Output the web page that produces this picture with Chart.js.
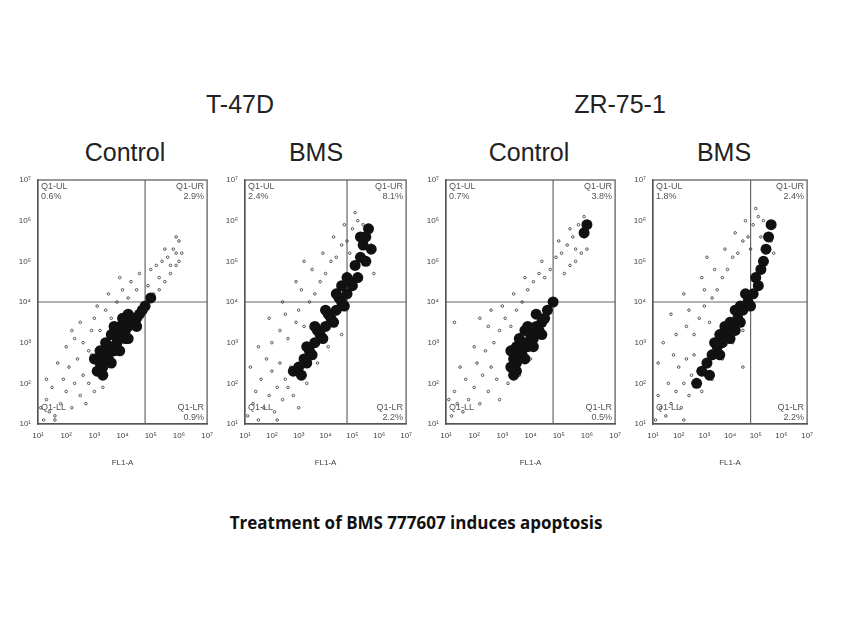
<!DOCTYPE html>
<html><head><meta charset="utf-8">
<script src="https://cdn.jsdelivr.net/npm/chart.js@4"></script>
<style>
body{margin:0;width:841px;height:630px;background:#fff;position:relative;font-family:"Liberation Sans",Arial,sans-serif;overflow:hidden}
.t{position:absolute;color:#222;transform:translateX(-50%);white-space:nowrap}
.c{position:absolute}
</style></head><body>
<div class="t" style="left:240px;top:90px;font-size:25px">T-47D</div>
<div class="t" style="left:620px;top:90px;font-size:25px">ZR-75-1</div>
<div class="t" style="left:125px;top:138px;font-size:25px">Control</div>
<div class="t" style="left:316px;top:138px;font-size:25px">BMS</div>
<div class="t" style="left:529px;top:138px;font-size:25px">Control</div>
<div class="t" style="left:724px;top:138px;font-size:25px">BMS</div>
<div class="t" style="left:416px;top:511px;font-size:17px;font-weight:bold;color:#111;font-family:'Open Sans',sans-serif">Treatment of BMS 777607 induces apoptosis</div>
<div class="c" style="left:18px;top:172px;width:198px;height:296px"><canvas id="p0"></canvas></div>
<div class="c" style="left:225px;top:172px;width:190px;height:296px"><canvas id="p1"></canvas></div>
<div class="c" style="left:426px;top:172px;width:198px;height:296px"><canvas id="p2"></canvas></div>
<div class="c" style="left:633px;top:172px;width:183px;height:296px"><canvas id="p3"></canvas></div>
<script>
const tickLabels=["10¹","10²","10³","10⁴","10⁵","10⁶","10⁷"];
const xGate=4.8, yGate=4.0;
const quadUL=["0.6%","2.4%","0.7%","1.8%"];
const quadUR=["2.9%","8.1%","3.8%","2.4%"];
const quadLR=["0.9%","2.2%","0.5%","2.2%"];
// dense population (log10 FL1-A, log10 FL2-A)
const dense0=[[3.1,2.3],[3.2,2.5],[3.3,2.4],[3.4,2.7],[3.5,2.6],[3.6,2.9],[3.7,2.8],[3.8,3.0],[3.9,3.1],[4.0,3.2],[4.1,3.3],[4.2,3.4],[4.3,3.5],[4.4,3.6],[4.5,3.6],[4.6,3.7],[3.5,2.9],[3.8,3.2],[4.1,3.1],[3.3,2.7],[4.7,3.8],[3.2,2.8],[3.4,3.0],[3.6,3.2],[3.9,3.4],[4.2,3.7],[3.3,2.2],[3.6,2.5],[3.9,2.8],[4.2,3.1],[4.5,3.4],[3.0,2.6],[3.7,3.4],[4.0,3.6],[4.8,3.9],[5.0,4.1]];
const dense1=[[2.8,2.3],[3.0,2.4],[3.2,2.6],[3.4,2.8],[3.6,3.0],[3.8,3.2],[4.0,3.4],[4.2,3.6],[4.4,3.8],[4.6,4.0],[4.8,4.2],[5.0,4.4],[5.2,4.6],[3.3,2.9],[3.7,3.3],[4.1,3.7],[4.5,4.1],[4.9,4.5],[5.3,5.1],[5.4,5.4],[5.5,5.6],[5.5,5.0],[3.1,2.2],[3.5,2.7],[3.9,3.1],[4.3,3.5],[4.7,3.9],[3.6,3.4],[4.0,3.8],[4.4,4.2],[4.8,4.6],[5.1,4.9],[5.3,5.6],[5.6,5.8],[5.7,5.3],[3.3,2.5],[4.6,4.4]];
const dense2=[[3.3,2.4],[3.4,2.6],[3.5,2.5],[3.6,2.8],[3.7,2.7],[3.8,3.0],[3.9,2.9],[4.0,3.2],[4.1,3.1],[4.2,3.4],[4.3,3.3],[3.5,2.9],[3.8,3.3],[4.4,3.5],[4.5,3.6],[3.4,2.2],[3.3,2.8],[3.6,3.1],[3.9,3.4],[4.2,3.7],[3.5,2.3],[3.8,2.6],[4.1,2.9],[4.4,3.2],[4.6,3.8],[4.8,4.0],[5.9,5.7],[6.0,5.9]];
const dense3=[[2.9,2.3],[3.1,2.5],[3.3,2.7],[3.5,2.9],[3.7,3.0],[3.9,3.2],[4.1,3.4],[4.3,3.6],[4.5,3.8],[4.7,4.0],[4.9,4.2],[5.1,4.4],[3.6,3.2],[4.0,3.5],[4.4,3.9],[5.2,4.8],[5.4,5.3],[5.5,5.6],[3.2,2.2],[4.2,3.3],[3.4,3.0],[3.8,3.4],[4.2,3.8],[4.6,4.2],[5.0,4.6],[3.6,2.7],[4.0,3.1],[4.4,3.5],[4.8,3.9],[5.3,5.0],[5.6,5.9],[2.7,2.0]];
// sparse events
const sparse0=[[1.2,1.1],[1.4,1.3],[1.3,1.6],[1.6,1.2],[1.8,1.5],[1.5,1.9],[2.0,1.8],[2.2,1.4],[1.9,2.1],[2.3,2.0],[2.5,1.7],[2.1,2.4],[2.6,2.2],[2.8,2.0],[2.4,2.6],[1.7,2.5],[2.0,2.9],[2.3,3.1],[2.6,3.0],[2.9,3.3],[2.5,3.5],[3.0,3.6],[3.2,3.3],[3.4,3.8],[3.1,3.9],[3.6,3.6],[3.8,4.0],[3.5,4.2],[4.0,4.3],[4.2,4.1],[3.9,4.6],[4.3,4.5],[4.5,4.3],[4.6,4.7],[4.9,4.4],[5.0,4.8],[5.2,4.9],[5.1,4.2],[5.3,4.6],[5.4,5.0],[5.6,5.1],[5.7,4.9],[5.8,5.3],[5.9,5.2],[6.0,5.5],[5.5,5.3],[6.1,5.2],[5.9,5.6],[5.3,4.3],[5.5,4.5],[5.7,4.7],[5.9,4.9],[6.0,5.0],[1.1,1.4],[2.7,1.5],[3.0,1.8],[2.9,2.7],[1.3,2.1],[2.2,3.3],[2.8,2.8],[3.3,1.9],[1.6,1.1]];
const sparse1=[[1.1,1.2],[1.3,1.5],[1.5,1.1],[1.4,1.8],[1.7,1.4],[1.9,1.7],[1.6,2.1],[2.1,1.3],[2.2,1.9],[2.0,2.3],[2.4,1.6],[2.5,2.1],[2.3,2.5],[1.8,2.6],[2.6,1.9],[2.8,1.7],[2.7,2.4],[1.5,2.9],[2.0,3.0],[2.3,3.3],[2.6,3.1],[2.9,3.5],[2.5,3.7],[3.0,3.8],[3.2,3.4],[3.4,4.0],[3.1,4.3],[3.6,4.2],[3.8,4.5],[3.5,4.8],[4.0,4.7],[4.2,5.0],[3.9,5.2],[4.4,5.1],[4.6,5.4],[4.3,5.6],[4.8,5.5],[5.0,5.8],[4.7,5.9],[5.2,6.0],[5.4,5.9],[5.1,6.2],[5.6,5.8],[5.7,5.4],[5.3,5.5],[4.9,5.2],[2.9,4.5],[2.4,4.0],[3.3,2.0],[3.7,2.5],[4.1,2.9],[4.6,3.2],[3.0,1.4],[2.2,1.1],[1.2,2.4],[5.8,4.7],[1.9,3.6],[3.2,5.0]];
const sparse2=[[1.2,1.2],[1.4,1.5],[1.6,1.3],[1.3,1.8],[1.8,1.6],[2.0,1.9],[1.7,2.1],[2.2,1.5],[2.3,2.2],[2.1,2.5],[2.5,1.8],[2.6,2.4],[2.8,2.1],[2.4,2.8],[2.0,2.9],[1.5,2.4],[2.7,3.0],[2.9,3.3],[2.5,3.4],[3.1,3.6],[3.3,3.4],[3.0,3.9],[3.5,3.8],[3.7,4.0],[3.4,4.2],[3.9,4.3],[4.1,4.5],[3.8,4.6],[4.3,4.7],[4.5,4.6],[4.4,5.0],[4.7,4.8],[4.9,5.1],[5.1,5.2],[5.0,5.5],[5.3,5.4],[5.5,5.6],[5.6,5.3],[5.8,5.7],[5.7,5.9],[5.9,5.6],[5.4,5.8],[5.2,4.7],[5.4,4.9],[5.6,5.0],[5.8,5.2],[6.0,5.3],[2.2,3.6],[1.3,3.5],[3.2,2.0],[3.6,2.2],[4.0,2.6],[1.1,1.6],[2.9,1.6],[5.9,6.1],[2.6,3.8]];
const sparse3=[[1.1,1.1],[1.3,1.4],[1.5,1.2],[1.2,1.7],[1.7,1.5],[1.9,1.8],[1.6,2.0],[2.1,1.4],[2.2,2.0],[2.0,2.4],[2.4,1.7],[2.5,2.2],[2.3,2.6],[1.8,2.7],[2.7,2.0],[2.9,1.8],[2.6,2.7],[1.4,3.0],[1.9,3.2],[2.3,3.4],[2.6,3.2],[2.8,3.6],[2.4,3.8],[3.0,3.9],[3.2,3.5],[3.3,4.1],[3.0,4.3],[3.5,4.3],[3.7,4.6],[3.4,4.8],[3.9,4.8],[4.1,5.1],[3.8,5.3],[4.3,5.2],[4.5,5.5],[4.2,5.7],[4.7,5.6],[4.9,5.9],[4.6,6.0],[5.1,6.1],[5.3,6.0],[5.0,6.3],[5.5,5.9],[5.6,5.5],[5.2,5.6],[4.8,5.3],[2.9,4.6],[2.2,4.2],[3.3,2.1],[3.7,2.6],[4.1,3.0],[4.5,3.3],[4.5,2.4],[2.2,1.1],[1.2,2.5],[5.7,5.2],[1.7,3.7],[3.1,5.1]];
const panels=[[dense0,sparse0],[dense1,sparse1],[dense2,sparse2],[dense3,sparse3]];
const pts=a=>a.map(p=>({x:p[0],y:p[1]}));
panels.forEach((pd,i)=>{
  const quad={id:'q',afterDatasetsDraw(ch){
    const c=ch.ctx,a=ch.chartArea;c.save();
    c.strokeStyle='#555';c.lineWidth=1.2;c.strokeRect(a.left,a.top,a.right-a.left,a.bottom-a.top);
    c.fillStyle='#555';c.font='9px "Liberation Sans"';
    c.textAlign='left';c.fillText('Q1-UL',a.left+3,a.top+9);c.fillText(quadUL[i],a.left+3,a.top+19);
    c.textAlign='right';c.fillText('Q1-UR',a.right-3,a.top+9);c.fillText(quadUR[i],a.right-3,a.top+19);
    c.fillText('Q1-LR',a.right-3,a.bottom-14);c.fillText(quadLR[i],a.right-3,a.bottom-4);
    c.textAlign='left';c.fillText('Q1-LL',a.left+3,a.bottom-14);
    c.restore();}};
  new Chart(document.getElementById('p'+i),{type:'scatter',
    data:{datasets:[
      {data:pts(pd[0]),pointRadius:5.5,backgroundColor:'#111',borderWidth:0},
      {data:pts(pd[1]),pointRadius:1.3,backgroundColor:'rgba(0,0,0,0)',borderColor:'#333',borderWidth:0.8},
      {data:[{x:xGate,y:1},{x:xGate,y:7}],showLine:true,pointRadius:0,borderColor:'#666',borderWidth:1.2},
      {data:[{x:1,y:yGate},{x:7,y:yGate}],showLine:true,pointRadius:0,borderColor:'#666',borderWidth:1.2}
    ]},
    options:{responsive:true,maintainAspectRatio:false,animation:false,
      plugins:{legend:{display:false},tooltip:{enabled:false}},
      layout:{padding:{top:8,right:4}},
      scales:{
        x:{min:1,max:7,afterFit(s){s.height=44;},
          title:{display:true,text:'FL1-A',font:{size:8},color:'#444',padding:0},
          grid:{display:false,drawTicks:true,tickLength:4},border:{color:'#555',width:1.2},
          ticks:{stepSize:1,font:{size:8},color:'#444',maxRotation:0,callback:v=>tickLabels[v-1]}},
        y:{min:1,max:7,afterFit(s){s.width=20;},
          grid:{display:false,tickLength:4},border:{color:'#555',width:1.2},
          ticks:{stepSize:1,font:{size:8},color:'#444',callback:v=>tickLabels[v-1]}}
      }},
    plugins:[quad]});
});
</script></body></html>
